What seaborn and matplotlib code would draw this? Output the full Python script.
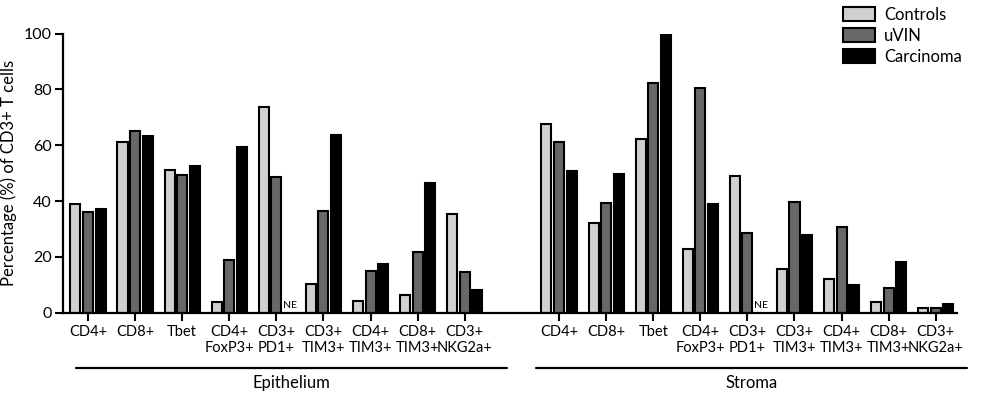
import numpy as np
import pandas as pd
import matplotlib
matplotlib.use("Agg")
import matplotlib.pyplot as plt
import matplotlib.transforms as mtransforms
import seaborn as sns

# ---------------- data ----------------
markers = ["CD4+", "CD8+", "Tbet", "CD4+\nFoxP3+", "CD3+\nPD1+",
           "CD3+\nTIM3+", "CD4+\nTIM3+", "CD8+\nTIM3+", "CD3+\nNKG2a+"]
groups = ["Controls", "uVIN", "Carcinoma"]
compartments = ["Epithelium", "Stroma"]

epi_controls = [38.9, 61.2, 51.0, 3.8, 73.5, 10.4, 4.2, 6.3, 35.5]
epi_uvin = [36.2, 65.1, 49.2, 18.8, 48.7, 36.6, 15.1, 21.6, 14.6]
epi_carcinoma = [37.3, 63.2, 52.7, 59.3, np.nan, 63.8, 17.6, 46.5, 8.1]

str_controls = [67.7, 32.2, 62.3, 22.7, 49.1, 15.8, 12.1, 3.8, 1.8]
str_uvin = [61.2, 39.2, 82.3, 80.6, 28.6, 39.6, 30.8, 8.7, 1.7]
str_carcinoma = [50.9, 49.6, 100.0, 39.1, np.nan, 27.8, 9.8, 18.2, 3.2]

colors = ["#d0d0d0", "#686868", "#000000"]

# ---------------- build table ----------------
series = {
    "Epithelium": [epi_controls, epi_uvin, epi_carcinoma],
    "Stroma": [str_controls, str_uvin, str_carcinoma],
}
rows = []
for comp in compartments:
    for g, vals in zip(groups, series[comp]):
        for m, v in zip(markers, vals):
            rows.append({"key": f"{comp}|{m}", "group": g, "value": v,
                         "marker": m, "comp": comp})
df = pd.DataFrame(rows)
df_plot = df.dropna(subset=["value"])

spacer = "__spacer__"
order = [f"Epithelium|{m}" for m in markers] + [spacer] + [f"Stroma|{m}" for m in markers]

# ---------------- plot ----------------
sns.set_style("ticks")
plt.rcParams["font.family"] = ["Lato", "DejaVu Sans"]
plt.rcParams["text.color"] = "black"
plt.rcParams["axes.labelcolor"] = "black"
plt.rcParams["xtick.color"] = "black"
plt.rcParams["ytick.color"] = "black"
plt.rcParams["axes.edgecolor"] = "black"

fig = plt.figure(figsize=(9.81, 3.95), dpi=100)
ax = fig.add_axes([63 / 981, 1 - 312.7 / 395, (957 - 63) / 981, (312.7 - 33.5) / 395])

sns.barplot(data=df_plot, x="key", y="value", hue="group", order=order,
            hue_order=groups, palette=colors, saturation=1, width=0.8, gap=0.2,
            edgecolor="black", linewidth=1.5, errorbar=None, ax=ax)

ax.set_ylim(0, 100)
ax.set_xlim(-0.53, 18.45)
ax.set_yticks([0, 20, 40, 60, 80, 100])
tick_pos = [i for i, k in enumerate(order) if k != spacer]
ax.set_xticks(tick_pos)
ax.set_xticklabels(markers + markers, fontsize=10.5, linespacing=1.15)
ax.tick_params(axis="y", labelsize=11.5, length=6, width=1.5, pad=2)
ax.tick_params(axis="x", length=6, width=1.5, pad=3)
ax.set_xlabel("")
ax.set_ylabel("Percentage (%) of CD3+ T cells", fontsize=12, labelpad=5)
sns.despine(ax=ax)
for s in ["left", "bottom"]:
    ax.spines[s].set_linewidth(1.6)

# NE annotations (not evaluated)
for comp in compartments:
    for i, m in enumerate(markers):
        v = df.loc[(df.key == f"{comp}|{m}") & (df.group == "Carcinoma"), "value"].iloc[0]
        if np.isnan(v):
            xpos = order.index(f"{comp}|{m}") + 0.29
            ax.text(xpos, 0.8, "NE", fontsize=7.5, ha="center", va="bottom")

# compartment brackets
trans = mtransforms.blended_transform_factory(ax.transData, ax.transAxes)
spans = {"Epithelium": (-0.25, 8.9), "Stroma": (9.51, 18.66)}
for comp in compartments:
    x0, x1 = spans[comp]
    ax.plot([x0, x1], [-0.197, -0.197], color="black", lw=1.6,
            transform=trans, clip_on=False)
    ax.text((x0 + x1) / 2, -0.252, comp, transform=trans, ha="center",
            va="center", fontsize=12)

# legend
handles, labels = ax.get_legend_handles_labels()
ax.legend(handles, labels, loc="upper left",
          bbox_to_anchor=(843 / 981, 1 - 7 / 395), bbox_transform=fig.transFigure,
          frameon=False, fontsize=12, handlelength=1.9, handleheight=0.9,
          handletextpad=0.55, labelspacing=0.3, borderpad=0, borderaxespad=0)

fig.savefig("out.png", dpi=100)
